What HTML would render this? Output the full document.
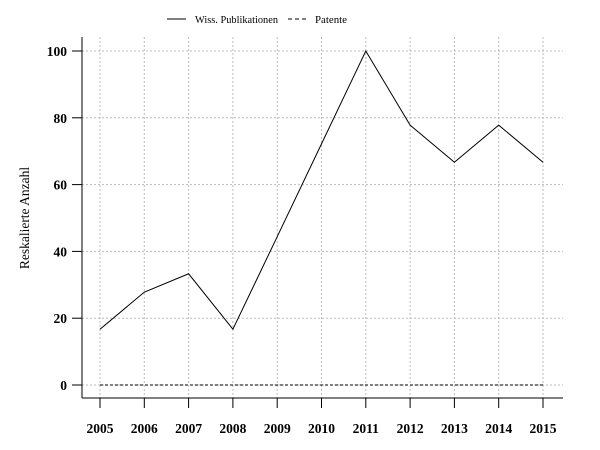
<!DOCTYPE html>
<html><head><meta charset="utf-8"><style>
body{margin:0;background:#fff;}
svg{display:block;font-family:"Liberation Serif",serif;}
</style></head><body>
<svg id="chart" width="600" height="450" xmlns="http://www.w3.org/2000/svg">
<g id="grid"></g>
<g id="axes"></g>
<g id="series"></g>
<g font-size="11">
<line x1="167" y1="19" x2="186" y2="19" stroke="#000"/>
<text x="195" y="23" textLength="83" lengthAdjust="spacingAndGlyphs">Wiss. Publikationen</text>
<line x1="288" y1="19" x2="306" y2="19" stroke="#000" stroke-dasharray="4,3"/>
<text x="315" y="23" textLength="32" lengthAdjust="spacingAndGlyphs">Patente</text>
</g>
<text transform="translate(29,218) rotate(-90)" text-anchor="middle" font-size="13.5">Reskalierte Anzahl</text>
</svg>
<script>
const years=[2005,2006,2007,2008,2009,2010,2011,2012,2013,2014,2015];
const publications=[16.7,27.8,33.3,16.7,44.4,72.2,100,77.8,66.7,77.8,66.7];
const patents=[0,0,0,0,0,0,0,0,0,0,0];
const yTicks=[0,20,40,60,80,100];
const NS="http://www.w3.org/2000/svg";
const X=y=>100+(y-2005)*(543-100)/10;
const Y=v=>385-v*(385-51)/100;
const L=82,R=563,T=37,B=398;
function mk(tag,attrs,parent){const e=document.createElementNS(NS,tag);for(const k in attrs)e.setAttribute(k,attrs[k]);parent.appendChild(e);return e;}
const grid=document.getElementById('grid'),axes=document.getElementById('axes'),series=document.getElementById('series');
yTicks.forEach(t=>{
 const g=mk('line',{x1:L,x2:R,y1:Y(t),y2:Y(t),stroke:'#bbb','stroke-dasharray':'2,2'},grid);
 
 
 const tk=mk('line',{x1:72,x2:L,y1:Y(t),y2:Y(t),stroke:'#000'},axes);
 
 
 const tx=mk('text',{x:67,y:Y(t)+5,'text-anchor':'end','font-size':'13.5','font-weight':'bold'},axes);
 tx.textContent=t;
 
 
});
years.forEach(yr=>{
 const g=mk('line',{x1:X(yr),x2:X(yr),y1:T,y2:B,stroke:'#bbb','stroke-dasharray':'2,2'},grid);
 
 
 const tk=mk('line',{x1:X(yr),x2:X(yr),y1:B,y2:408,stroke:'#000'},axes);
 
 
 const tx=mk('text',{x:X(yr),y:433,'text-anchor':'middle','font-size':'13.5','font-weight':'bold'},axes);
 tx.textContent=yr;
 
 
});
const ya=mk('line',{x1:L,x2:L,y1:T,y2:B,stroke:'#000'},axes);


const xa=mk('line',{x1:L,x2:R,y1:B,y2:B,stroke:'#000'},axes);


const p1=mk('polyline',{points:years.map((y,i)=>X(y)+','+Y(publications[i])).join(' '),fill:'none',stroke:'#000'},series);


const p2=mk('polyline',{points:years.map((y,i)=>X(y)+','+Y(patents[i])).join(' '),fill:'none',stroke:'#000','stroke-dasharray':'3,2'},series);


</script>
</body></html>
